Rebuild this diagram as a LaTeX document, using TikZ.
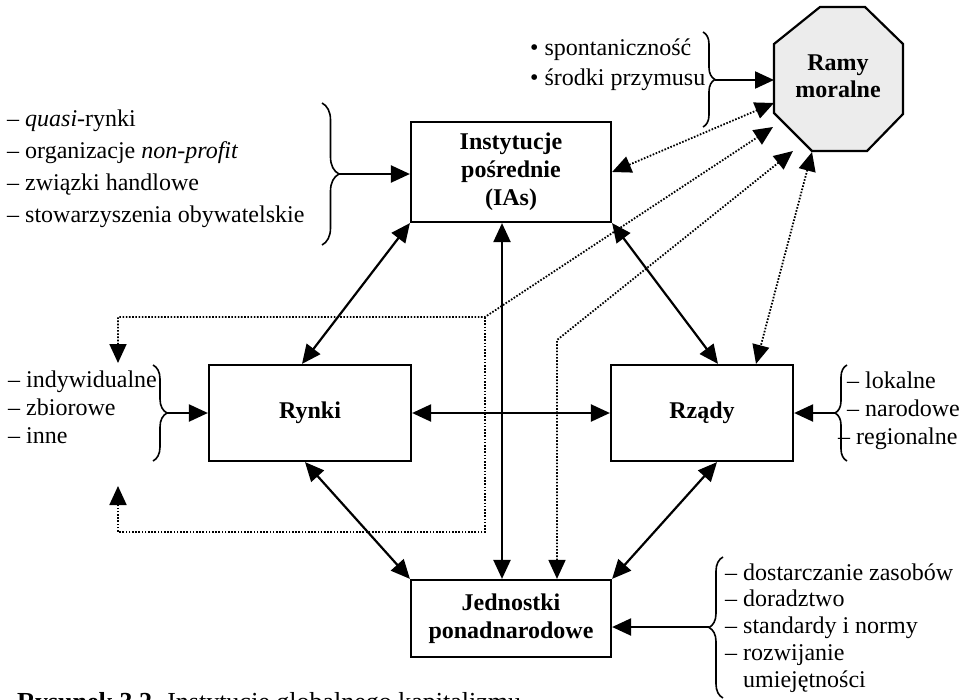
\documentclass[tikz,border=0pt]{standalone}
\usepackage{fontspec}
\setmainfont{Liberation Serif}
\usetikzlibrary{arrows.meta,decorations.pathreplacing,calc}

% left-aligned list whose baseline is the first line's baseline
\newcommand{\itemlist}[1]{\begin{tabular}[t]{@{}l@{}}#1\end{tabular}}

\begin{document}
\begin{tikzpicture}[x=1pt,y=-1pt,
  >={Triangle[length=19pt,width=17pt]},
  box/.style={draw,line width=2.2pt,inner sep=0pt,align=center,
    font=\bfseries\fontsize{24}{28}\selectfont},
  twoway/.style={line width=2.2pt,<->},
  feed/.style={line width=2.2pt,->},
  dotlink/.style={line width=1.8pt,dash pattern=on 1.6pt off 1.6pt},
  curly/.style={decorate,decoration={brace,amplitude=#1},line width=1.6pt},
  lst/.style={inner sep=0pt,anchor=base west},
]
\useasboundingbox (0,0) rectangle (963,699);

% ---- main institutions ----
\node[box,minimum width=200pt,minimum height=100pt] (ias) at (511,172)
  {Instytucje\\pośrednie\\(IAs)};
\node[box,minimum width=202pt,minimum height=96pt] (rynki) at (310,413) {Rynki};
\node[box,minimum width=182pt,minimum height=96pt] (rzady) at (702,413) {Rządy};
\node[box,minimum width=200pt,minimum height=77pt] (jedn) at (511,618.5)
  {Jednostki\\ponadnarodowe};

% ---- moral framework (octagon) ----
\draw[line width=2.2pt,fill=gray!15] (820,7) -- (865,7) -- (903,44) -- (903,114)
  -- (867,151) -- (812,151) -- (774,113) -- (774,44) -- cycle;
\node[inner sep=0pt,align=center,font=\bfseries\fontsize{24}{27}\selectfont]
  (ramy) at (838,76) {Ramy\\moralne};
\coordinate (ramyL) at (774,80);
\coordinate (ramyA) at (774,103);
\coordinate (ramyB) at (773,127);
\coordinate (ramyC) at (793,151);
\coordinate (ramyD) at (812,152);

% ---- solid links between institutions ----
\draw[twoway] (ias.south west) -- ([xshift=-8pt]rynki.north);
\draw[twoway] (ias.south east) -- ([xshift=16pt]rzady.north);
\draw[twoway] ([xshift=-9pt]ias.south) -- ([xshift=-9pt]jedn.north);
\draw[twoway] (rynki.east) -- (rzady.west);
\draw[twoway] ([xshift=-5pt]rynki.south) -- (jedn.north west);
\draw[twoway] ([xshift=15pt]rzady.south) -- (jedn.north east);

% ---- dotted links from the moral framework ----
\draw[dotlink,<->] (ias.east) -- (ramyA);
\coordinate (bend1) at (485,317);
\coordinate (bend2) at (485,532);
\coordinate (upTip) at (118,363);
\coordinate (lowTip) at (118,486);
\draw[dotlink,<->] (upTip) |- (bend1) -- (ramyB);
\draw[dotlink,->] (bend1) -- (bend2) -| (lowTip);
\coordinate (bend3) at (557,340);
\draw[dotlink,<->] (ramyC) -- (bend3) -- ([xshift=46pt]jedn.north);
\draw[dotlink,<->] (ramyD) -- ([xshift=54pt]rzady.north);

% ---- lists with braces ----
\begin{scope}[font=\fontsize{24}{32}\selectfont]
\node[lst] (iasList) at (7,126) {\itemlist{%
  – \textit{quasi}-rynki\\
  – organizacje \textit{non-profit}\\
  – związki handlowe\\
  – stowarzyszenia obywatelskie}};
\end{scope}
\draw[curly=17pt] (322,103) -- (322,245);
\coordinate (bt1) at (339,174);
\draw[feed] (bt1) -- (bt1 -| ias.west);

\begin{scope}[font=\fontsize{24}{28}\selectfont]
\node[lst] (rynkiList) at (8,387) {\itemlist{%
  – indywidualne\\
  – zbiorowe\\
  – inne}};
\node[lst] (rzadyList) at (847,388) {\itemlist{%
  – lokalne\\
  – narodowe\\
  \hspace{-9pt}– regionalne}};
\end{scope}
\draw[curly=14pt] (153,365) -- (153,461);
\coordinate (bt2) at (167,413);
\draw[feed] (bt2) -- (rynki.west);
\draw[curly=12pt] (847,461) -- (847,365);
\coordinate (bt3) at (835,413);
\draw[feed] (bt3) -- (rzady.east);

\begin{scope}[font=\fontsize{24}{26.75}\selectfont]
\node[lst] (jednList) at (725,580) {\itemlist{%
  – dostarczanie zasobów\\
  – doradztwo\\
  – standardy i normy\\
  – rozwijanie\\
  \phantom{– }umiejętności}};
\end{scope}
\draw[curly=14pt] (723,698) -- (723,557);
\coordinate (bt4) at (709,627);
\draw[feed] (bt4) -- (bt4 -| jedn.east);

\begin{scope}[font=\fontsize{24}{30}\selectfont]
\node[lst] (ramyList) at (530,55) {\itemlist{%
  • spontaniczność\\
  • środki przymusu}};
\end{scope}
\draw[curly=12pt] (703,32) -- (703,127);
\coordinate (bt5) at (715,80);
\draw[feed] (bt5) -- (ramyL);

% ---- caption ----
\begin{scope}
\clip (0,0) rectangle (963,699);
\node[lst,font=\fontsize{26}{30}\selectfont] (caption) at (17,710)
  {\textbf{Rysunek 3.2.} Instytucje globalnego kapitalizmu};
\end{scope}
\end{tikzpicture}
\end{document}
